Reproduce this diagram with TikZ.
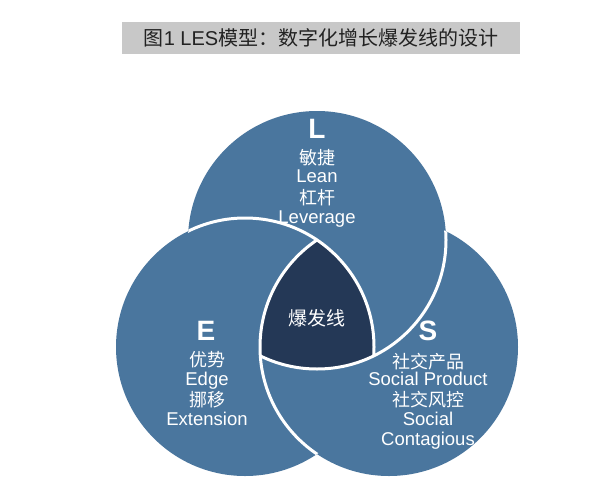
\documentclass[tikz,border=0pt]{standalone}
\usepackage{fontspec}
\setmainfont{Liberation Sans}
\newfontfamily\cjk{Noto Sans CJK SC}
\definecolor{circblue}{RGB}{74,118,158}
\definecolor{coredark}{RGB}{36,56,86}
\definecolor{titlegray}{RGB}{200,200,200}
\definecolor{titletext}{RGB}{34,34,34}
\tikzset{
  ring/.style={white,line width=3pt},
  bigletter/.style={text=white,anchor=base,inner sep=0pt,font=\fontsize{28}{30}\selectfont\bfseries},
  zhline/.style={text=white,anchor=base,inner sep=0pt,font=\cjk\fontsize{18}{20}\selectfont},
  enline/.style={text=white,anchor=base,inner sep=0pt,font=\fontsize{18.5}{20}\selectfont},
}
\begin{document}
\begin{tikzpicture}[x=1pt,y=-1pt]
\useasboundingbox (0,0) rectangle (589,490);
\fill[white] (0,0) rectangle (589,490);
% title
\node[fill=titlegray,minimum width=398pt,minimum height=32pt,inner sep=0pt,
      text=titletext,font=\fontsize{20}{22}\selectfont] (title) at (321,38)
      {{\cjk 图}1 LES{\cjk 模型：数字化增长爆发线的设计}};
% circles
\coordinate (cL) at (317,240);
\coordinate (cE) at (245,347);
\coordinate (cS) at (389,347);
\fill[circblue] (cL) circle[radius=129pt];
\fill[circblue] (cE) circle[radius=129pt];
\fill[circblue] (cS) circle[radius=129pt];
% core
\begin{scope}
  \clip (cE) circle[radius=129pt];
  \clip (cS) circle[radius=129pt];
  \fill[coredark] (cL) circle[radius=129pt];
\end{scope}
% white borders (cyclic overlap)
\begin{scope}
  \clip (cL) circle[radius=129pt];
  \draw[ring] (cE) circle[radius=129pt];
\end{scope}
\begin{scope}
  \clip (cS) circle[radius=129pt];
  \draw[ring] (cL) circle[radius=129pt];
\end{scope}
\begin{scope}
  \clip (cE) circle[radius=129pt];
  \draw[ring] (cS) circle[radius=129pt];
\end{scope}
% L texts
\node[bigletter] (Lt) at (317,138) {L};
\node[zhline] (L1) at (317,164) {敏捷};
\node[enline] (L2) at (317,182) {Lean};
\node[zhline] (L3) at (317,204) {杠杆};
\node[enline] (L4) at (317,223) {Leverage};
% E texts
\node[bigletter] (Et) at (206,340) {E};
\node[zhline] (E1) at (207,366) {优势};
\node[enline] (E2) at (207,385) {Edge};
\node[zhline] (E3) at (207,406) {挪移};
\node[enline] (E4) at (207,425) {Extension};
% S texts
\node[bigletter] (St) at (428,340) {S};
\node[zhline] (S1) at (428,368) {社交产品};
\node[enline] (S2) at (428,385) {Social Product};
\node[zhline] (S3) at (428,406) {社交风控};
\node[enline] (S4) at (428,425) {Social};
\node[enline] (S5) at (428,445) {Contagious};
% core text
\node[text=white,inner sep=0pt,font=\cjk\fontsize{19}{21}\selectfont] (core) at (317,318) {爆发线};
\end{tikzpicture}
\end{document}
